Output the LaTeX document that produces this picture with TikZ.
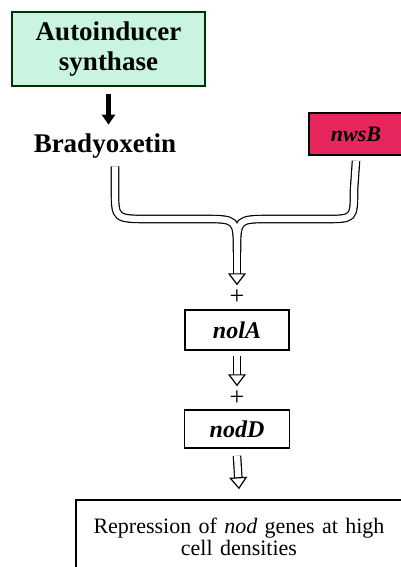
\documentclass[tikz,border=0pt]{standalone}
\usepackage{fontspec}
\setmainfont{Liberation Serif}
\usetikzlibrary{arrows.meta,positioning}
\definecolor{mintbox}{HTML}{C8F4E0}
\definecolor{pinkbox}{HTML}{E8265E}
\tikzstyle{gene}=[draw, thick, fill=white, align=center, font=\bfseries\itshape\fontsize{12}{14}\selectfont, inner sep=0pt]
\tikzstyle{hollow}=[double, double distance=3.1pt, line width=0.6pt, -{Triangle[open, length=6pt, width=9pt, line width=0.6pt]}]
\tikzstyle{plus}=[font=\fontsize{13}{13}\selectfont, inner sep=0pt]

\begin{document}
\begin{tikzpicture}[x=0.5pt,y=-0.5pt,node distance=2.5cm,auto,>=Triangle]
        \useasboundingbox (0,0) rectangle (401,567);
        \node [draw=black!80!green, thick, fill=mintbox, minimum width=96.5pt, minimum height=37pt, align=center, font=\bfseries\fontsize{13.5}{15}\selectfont] (synth) at (108.5,49) {Autoinducer\\synthase};
        \node [font=\bfseries\fontsize{13.5}{15}\selectfont] (brady) at (105,146) {Bradyoxetin};
        \node [gene, fill=pinkbox, minimum width=47pt, minimum height=21pt, font=\bfseries\itshape\fontsize{11}{13}\selectfont] (nwsb) at (356,134) {nwsB};
        \node [gene, minimum width=52pt, minimum height=20pt] (nola) at (237,330) {nolA};
        \node [plus] (p1) [above of=nola, node distance=16.5pt] {+};
        \node [gene, minimum width=52.5pt, minimum height=19pt] (nodd) [below of=nola, node distance=49.5pt] {nodD};
        \node [plus] (p2) [above of=nodd, node distance=15.5pt] {+};
        \node [draw, thick, fill=white, minimum width=163pt, minimum height=37.5pt, text width=150pt, align=center, text depth=12pt, font=\fontsize{11}{11}\selectfont] (repr) at (239,537.5) {Repression of \textit{nod} genes at high\\cell densities};
        % arrows
        \draw [line width=2.5pt, -{Triangle[length=5pt, width=6.5pt]}] ([yshift=-3.5pt]synth.south) -- ([yshift=1pt]brady.north -| synth.south);
        \draw [double, double distance=3.1pt, line width=0.6pt]
        ([xshift=5pt,yshift=-0.5pt]brady.south) -- (115,190) .. controls (115,219) .. (150,219) -- (203,219) .. controls (237,219) .. (237,252)
        ([yshift=-2.5pt]nwsb.south) -- (354,190) .. controls (354,219) .. (325,219) -- (271,219) .. controls (237,219) .. (237,252);
        \draw [hollow] (237,251) -- ([yshift=2pt]p1.north);
        \draw [hollow] ([yshift=-2.5pt]nola.south) -- ([yshift=2pt]p2.north);
        \draw [hollow] ([yshift=-3.5pt]nodd.south) -- ([yshift=5pt]repr.north);
\end{tikzpicture}
\end{document}
